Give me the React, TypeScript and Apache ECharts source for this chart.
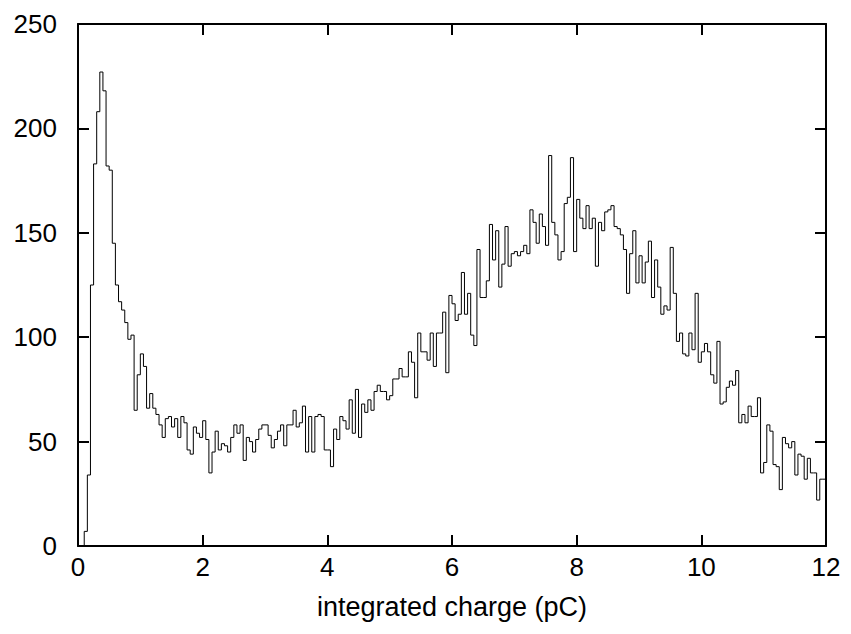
import React, { useEffect, useRef } from "react";
import * as echarts from "echarts";

// Histogram of integrated charge, 240 bins of 0.05 pC from 0 to 12 pC
const binStart = 0;
const binWidth = 0.05;

const countsA = [
  0, 0, 7, 34, 125, 183, 208, 227, 218, 182, 180, 145, 125, 117, 113, 107, 99, 101, 65, 82,
  92, 86, 66, 73, 66, 63, 58, 52, 61, 62, 57, 61, 52, 62, 59, 46, 44, 57, 54, 52,
  60, 51, 35, 45, 55, 46, 49, 48, 45, 52, 58, 54, 58, 41, 52, 50, 45, 51, 56, 58,
];
const countsB = [
  58, 53, 47, 51, 55, 58, 48, 58, 58, 65, 57, 59, 67, 45, 62, 45, 62, 63, 62, 46,
  46, 38, 56, 51, 62, 60, 56, 70, 54, 75, 52, 68, 64, 70, 65, 74, 77, 74, 74, 70,
  72, 80, 80, 85, 81, 81, 93, 88, 71, 102, 93, 93, 89, 102, 86, 102, 102, 112, 83, 120,
];
const countsC = [
  116, 108, 111, 131, 111, 121, 101, 96, 142, 119, 119, 127, 154, 137, 151, 124, 135, 153, 134, 140,
  141, 139, 141, 144, 140, 161, 155, 145, 159, 153, 144, 187, 155, 149, 137, 141, 164, 167, 186, 141,
  166, 157, 152, 163, 152, 157, 134, 155, 151, 160, 161, 163, 153, 152, 149, 142, 121, 140, 151, 126,
];
const countsD = [
  139, 126, 136, 146, 119, 137, 124, 111, 115, 113, 143, 121, 98, 102, 92, 91, 102, 94, 121, 88,
  93, 97, 93, 82, 78, 98, 68, 69, 76, 79, 77, 84, 59, 63, 59, 67, 62, 62, 71, 35,
  40, 58, 55, 39, 38, 27, 52, 49, 47, 50, 34, 44, 43, 32, 42, 35, 35, 22, 32, 32,
];
const counts = [...countsA, ...countsB, ...countsC, ...countsD];

const xMin = 0;
const xMax = 12;
const xInterval = 2;
const yMin = 0;
const yMax = 250;
const yInterval = 50;
const xTitle = "integrated charge (pC)";

const FONT = "'Liberation Sans', Arial, Helvetica, sans-serif";

export default function App() {
  const ref = useRef<HTMLDivElement>(null);

  useEffect(() => {
    if (!ref.current) return;
    const chart = echarts.init(ref.current, null, { renderer: "svg" });

    const stepData: [number, number][] = counts.map((c, i) => [binStart + i * binWidth, c]);
    const lastEdge = binStart + counts.length * binWidth;
    stepData.push([lastEdge, counts[counts.length - 1]]);
    stepData.push([lastEdge, 0]);

    const axisLine = { show: true, onZero: false, lineStyle: { color: "#000", width: 2 } };
    const tick = { show: true, inside: true, length: 11, lineStyle: { color: "#000", width: 2 } };

    chart.setOption({
      animation: false,
      backgroundColor: "#fff",
      grid: { left: 78, right: 25, top: 24, bottom: 88, containLabel: false },
      xAxis: [
        {
          type: "value",
          min: xMin,
          max: xMax,
          interval: xInterval,
          position: "bottom",
          axisLine,
          axisTick: tick,
          splitLine: { show: false },
          axisLabel: { color: "#000", fontSize: 26, fontFamily: FONT, margin: 8 },
          name: xTitle,
          nameLocation: "middle",
          nameGap: 47,
          nameTextStyle: { color: "#000", fontSize: 27, fontFamily: FONT },
        },
        {
          type: "value",
          min: xMin,
          max: xMax,
          interval: xInterval,
          position: "top",
          axisLine,
          axisTick: tick,
          splitLine: { show: false },
          axisLabel: { show: false },
        },
      ],
      yAxis: [
        {
          type: "value",
          min: yMin,
          max: yMax,
          interval: yInterval,
          position: "left",
          axisLine,
          axisTick: tick,
          splitLine: { show: false },
          axisLabel: { color: "#000", fontSize: 26, fontFamily: FONT, margin: 21 },
        },
        {
          type: "value",
          min: yMin,
          max: yMax,
          interval: yInterval,
          position: "right",
          axisLine,
          axisTick: tick,
          splitLine: { show: false },
          axisLabel: { show: false },
        },
      ],
      series: [
        {
          type: "line",
          step: "end",
          data: stepData,
          xAxisIndex: 0,
          yAxisIndex: 0,
          showSymbol: false,
          symbol: "none",
          lineStyle: { color: "#000", width: 1 },
          silent: true,
        },
      ],
    });

    return () => chart.dispose();
  }, []);

  return (
    <div
      ref={ref}
      style={{ position: "absolute", left: 0, top: 0, width: 851, height: 634 }}
    />
  );
}
